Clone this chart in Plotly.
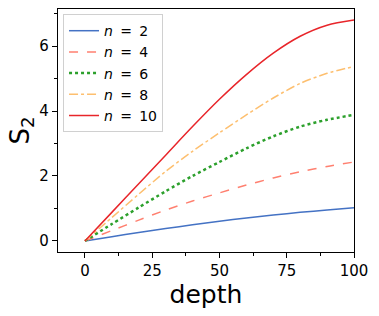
import plotly.graph_objects as go

depth = [0, 10, 20, 30, 40, 50, 60, 70, 80, 90, 100]
s_n2 = [0, 0.13, 0.26, 0.38, 0.50, 0.61, 0.71, 0.80, 0.88, 0.95, 1.02]
s_n4 = [0, 0.32, 0.64, 0.95, 1.23, 1.48, 1.72, 1.94, 2.13, 2.29, 2.43]
s_n6 = [0, 0.52, 1.03, 1.53, 2.00, 2.43, 2.85, 3.22, 3.52, 3.73, 3.88]
s_n8 = [0, 0.72, 1.44, 2.14, 2.76, 3.33, 3.88, 4.40, 4.85, 5.16, 5.37]
s_n10 = [0, 0.88, 1.76, 2.64, 3.52, 4.36, 5.12, 5.78, 6.30, 6.64, 6.80]

sp = "\u00a0\u2009"
names = [f"<i>n</i>{sp}={sp}{k}" for k in (2, 4, 6, 8, 10)]
series = [s_n2, s_n4, s_n6, s_n8, s_n10]
colors = ["#4472c4", "#ff8070", "#2ca02c", "#fdbf6f", "#e8252a"]
dashes = ["solid", "dash", "dot", "dashdot", "solid"]
widths = [1.5, 1.5, 2.5, 1.5, 1.5]

x_ticks = [0, 25, 50, 75, 100]
y_ticks = [0, 2, 4, 6]

fig = go.Figure()
for nm, ys, c, d, w in zip(names, series, colors, dashes, widths):
    fig.add_trace(go.Scatter(x=depth, y=ys, mode="lines", name=nm,
                             line=dict(color=c, dash=d, width=w, shape="spline", smoothing=0.8)))

axis_common = dict(showline=True, linecolor="black", linewidth=1.2, mirror=True,
                   showgrid=False, zeroline=False, ticks="outside", ticklen=5,
                   tickwidth=1.2, tickcolor="black", automargin=False,
                   tickfont=dict(family="DejaVu Sans", size=15, color="black"))

fig.update_xaxes(range=[-10, 100], tickvals=x_ticks,
                 minor=dict(ticks="outside", ticklen=3, tickwidth=1, tickcolor="black", dtick=12.5, tick0=0),
                 title=dict(text="depth", font=dict(family="DejaVu Sans", size=25, color="black"), standoff=0),
                 **axis_common)
fig.update_yaxes(range=[-0.34, 7.14], tickvals=y_ticks,
                 minor=dict(ticks="outside", ticklen=3, tickwidth=1, tickcolor="black", dtick=1, tick0=0),
                 title=dict(text="S<sub>2</sub>", font=dict(family="DejaVu Sans", size=26, color="black"), standoff=2),
                 **axis_common)

fig.update_layout(
    width=379, height=316,
    margin=dict(l=58, r=25, t=9, b=64),
    plot_bgcolor="white", paper_bgcolor="white",
    showlegend=True,
    legend=dict(x=0.017, y=0.979, xanchor="left", yanchor="top",
                bgcolor="rgba(255,255,255,0.8)", bordercolor="#d0d0d0", borderwidth=1,
                font=dict(family="DejaVu Sans", size=14, color="black"),
                tracegroupgap=0, itemwidth=30),
)

fig.write_html("out.html", config={"displayModeBar": False},
               post_script="document.body.style.margin='0';document.body.style.padding='0';")
